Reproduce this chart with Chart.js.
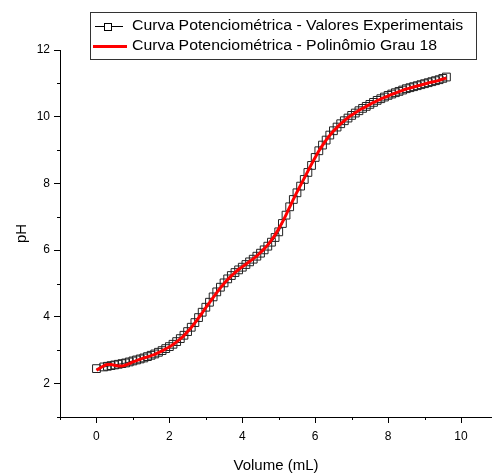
<!DOCTYPE html>
<html>
<head>
<meta charset="utf-8">
<script src="https://cdn.jsdelivr.net/npm/chart.js@4/dist/chart.umd.min.js"></script>
<style>
  html, body { margin: 0; padding: 0; background: #fff; overflow: hidden; }
</style>
</head>
<body>
<canvas id="titulacao" width="492" height="473"></canvas>
<script>
// volume de titulante (mL)
const volume = [
  0.0, 0.2, 0.3, 0.4, 0.5, 0.6, 0.7, 0.8, 0.9,
  1.0, 1.1, 1.2, 1.3, 1.4, 1.5, 1.6, 1.7, 1.8, 1.9,
  2.0, 2.1, 2.2, 2.3, 2.4, 2.5, 2.6, 2.7, 2.8, 2.9,
  3.0, 3.1, 3.2, 3.3, 3.4, 3.5, 3.6, 3.7, 3.8, 3.9,
  4.0, 4.1, 4.2, 4.3, 4.4, 4.5, 4.6, 4.7, 4.8, 4.9,
  5.0, 5.1, 5.2, 5.3, 5.4, 5.5, 5.6, 5.7, 5.8, 5.9,
  6.0, 6.1, 6.2, 6.3, 6.4, 6.5, 6.6, 6.7, 6.8, 6.9,
  7.0, 7.1, 7.2, 7.3, 7.4, 7.5, 7.6, 7.7, 7.8, 7.9,
  8.0, 8.1, 8.2, 8.3, 8.4, 8.5, 8.6, 8.7, 8.8, 8.9,
  9.0, 9.1, 9.2, 9.3, 9.4, 9.5, 9.6
];

// pH medido
const phExperimental = [
  2.45, 2.50, 2.52, 2.54, 2.56, 2.58, 2.60, 2.62, 2.65,
  2.68, 2.71, 2.74, 2.77, 2.81, 2.85, 2.89, 2.94, 2.99, 3.05,
  3.11, 3.18, 3.26, 3.35, 3.45, 3.56, 3.69, 3.83, 3.98, 4.14,
  4.29, 4.44, 4.60, 4.75, 4.89, 5.02, 5.14, 5.24, 5.33, 5.41,
  5.49, 5.57, 5.65, 5.73, 5.82, 5.91, 6.01, 6.12, 6.24, 6.38,
  6.55, 6.80, 7.05, 7.30, 7.52, 7.72, 7.92, 8.12, 8.33, 8.54,
  8.78, 8.98, 9.15, 9.30, 9.45, 9.58, 9.69, 9.79, 9.88, 9.96,
  10.04, 10.11, 10.18, 10.25, 10.31, 10.37, 10.43, 10.49, 10.54, 10.59,
  10.64, 10.68, 10.72, 10.76, 10.80, 10.84, 10.87, 10.90, 10.93, 10.96,
  10.99, 11.02, 11.05, 11.08, 11.11, 11.15, 11.19
];

// pH do ajuste polinomial (grau 18)
const phPolinomio = [
  2.40, 2.53, 2.57, 2.57, 2.55, 2.53, 2.53, 2.56, 2.60,
  2.65, 2.69, 2.73, 2.77, 2.80, 2.84, 2.88, 2.93, 2.98, 3.04,
  3.10, 3.17, 3.25, 3.34, 3.44, 3.56, 3.68, 3.82, 3.97, 4.12,
  4.28, 4.43, 4.58, 4.73, 4.87, 5.00, 5.12, 5.23, 5.33, 5.42,
  5.50, 5.58, 5.66, 5.74, 5.83, 5.93, 6.04, 6.16, 6.30, 6.46,
  6.64, 6.84, 7.06, 7.29, 7.52, 7.74, 7.95, 8.16, 8.37, 8.58,
  8.78, 8.97, 9.14, 9.30, 9.44, 9.57, 9.68, 9.79, 9.88, 9.97,
  10.05, 10.12, 10.19, 10.25, 10.31, 10.37, 10.43, 10.48, 10.53, 10.58,
  10.62, 10.67, 10.71, 10.75, 10.79, 10.83, 10.86, 10.89, 10.92, 10.95,
  10.98, 11.01, 11.04, 11.06, 11.09, 11.13, 11.16
];

const xTicks = [-1, 0, 1, 2, 3, 4, 5, 6, 7, 8, 9, 10];
const yTicks = [1, 2, 3, 4, 5, 6, 7, 8, 9, 10, 11, 12];
const legendLabels = [
  "Curva Potenciométrica - Valores Experimentais",
  "Curva Potenciométrica - Polinômio Grau 18"
];

const FONT = "'Liberation Sans', Arial, sans-serif";

// ticks menores (sem rótulo) nos valores ímpares
const minorTicks = {
  id: 'minorTicks',
  afterDraw(chart) {
    const { ctx, chartArea } = chart;
    const x = chart.scales.x, y = chart.scales.y;
    ctx.save();
    ctx.strokeStyle = '#000';
    ctx.lineWidth = 1;
    ctx.beginPath();
    xTicks.filter(v => v % 2 !== 0).forEach(v => {
      const px = Math.round(x.getPixelForValue(v)) + 0.5;
      ctx.moveTo(px, chartArea.bottom);
      ctx.lineTo(px, chartArea.bottom + 3);
    });
    yTicks.filter(v => v % 2 !== 0).forEach(v => {
      const py = Math.round(y.getPixelForValue(v)) + 0.5;
      ctx.moveTo(chartArea.left, py);
      ctx.lineTo(chartArea.left - 3, py);
    });
    ctx.stroke();
    ctx.restore();
  }
};

// legenda com moldura, no estilo do Origin
const boxLegend = {
  id: 'boxLegend',
  afterDraw(chart) {
    const ctx = chart.ctx;
    ctx.save();
    ctx.strokeStyle = '#333';
    ctx.lineWidth = 1;
    ctx.strokeRect(90.5, 12.5, 386, 47);

    // linha 1: linha preta com quadrado
    ctx.strokeStyle = '#000';
    ctx.beginPath();
    ctx.moveTo(95, 26.5); ctx.lineTo(105, 26.5);
    ctx.moveTo(112, 26.5); ctx.lineTo(123, 26.5);
    ctx.stroke();
    ctx.strokeRect(104.5, 23.5, 7, 7);

    // linha 2: linha vermelha
    ctx.strokeStyle = '#ff0000';
    ctx.lineWidth = 3;
    ctx.beginPath();
    ctx.moveTo(93, 46.5); ctx.lineTo(127, 46.5);
    ctx.stroke();

    ctx.fillStyle = '#000';
    ctx.font = '14px ' + FONT;
    ctx.textBaseline = 'middle';
    [26.5, 46.5].forEach((yy, i) => {
      ctx.save();
      ctx.translate(132, yy);
      ctx.scale(1.13, 1);
      ctx.fillText(legendLabels[i], 0, 0);
      ctx.restore();
    });
    ctx.restore();
  }
};

const ctx = document.getElementById('titulacao').getContext('2d');
new Chart(ctx, {
  type: 'scatter',
  data: {
    datasets: [
      {
        label: legendLabels[1],
        data: volume.map((v, i) => ({ x: v, y: phPolinomio[i] })),
        showLine: true,
        borderColor: '#ff0000',
        borderWidth: 3,
        pointRadius: 0,
        cubicInterpolationMode: 'monotone',
        order: 0
      },
      {
        label: legendLabels[0],
        data: volume.map((v, i) => ({ x: v, y: phExperimental[i] })),
        showLine: true,
        borderColor: '#222',
        borderWidth: 1,
        pointStyle: 'rect',
        pointRadius: 5.5,
        pointBorderColor: '#222',
        pointBackgroundColor: 'rgba(0,0,0,0)',
        pointBorderWidth: 1,
        order: 1
      }
    ]
  },
  options: {
    responsive: false,
    animation: false,
    devicePixelRatio: 1,
    layout: { autoPadding: false, padding: { top: 50, right: 0, left: 0, bottom: 0 } },
    plugins: {
      legend: { display: false },
      tooltip: { enabled: false }
    },
    scales: {
      x: {
        type: 'linear',
        min: -1,
        max: 10.85,
        afterBuildTicks: s => { s.ticks = xTicks.map(v => ({ value: v })); },
        afterFit: s => { s.height = 56; },
        grid: {
          drawOnChartArea: false,
          tickLength: 6,
          tickColor: c => (c.tick && c.tick.value % 2 === 0) ? '#000' : 'rgba(0,0,0,0)'
        },
        border: { display: true, color: '#000', width: 1 },
        ticks: {
          autoSkip: false,
          maxRotation: 0,
          padding: 6,
          color: '#000',
          font: { family: FONT, size: 12 },
          callback: v => (v % 2 === 0 && v >= 0) ? String(v) : ''
        },
        title: {
          display: true,
          text: 'Volume (mL)',
          color: '#000',
          font: { family: FONT, size: 15, lineHeight: 1 },
          padding: { top: 0, bottom: 0 }
        }
      },
      y: {
        type: 'linear',
        min: 1,
        max: 12,
        afterBuildTicks: s => { s.ticks = yTicks.map(v => ({ value: v })); },
        afterFit: s => { s.width = 60; },
        grid: {
          drawOnChartArea: false,
          tickLength: 6,
          tickColor: c => (c.tick && c.tick.value % 2 === 0) ? '#000' : 'rgba(0,0,0,0)'
        },
        border: { display: true, color: '#000', width: 1 },
        ticks: {
          autoSkip: false,
          padding: 4,
          color: '#000',
          font: { family: FONT, size: 12 },
          callback: v => (v % 2 === 0) ? String(v) : ''
        },
        title: {
          display: true,
          text: 'pH',
          color: '#000',
          font: { family: FONT, size: 15, lineHeight: 1 },
          padding: { top: 14, bottom: 0 }
        }
      }
    }
  },
  plugins: [minorTicks, boxLegend]
});
</script>
</body>
</html>
